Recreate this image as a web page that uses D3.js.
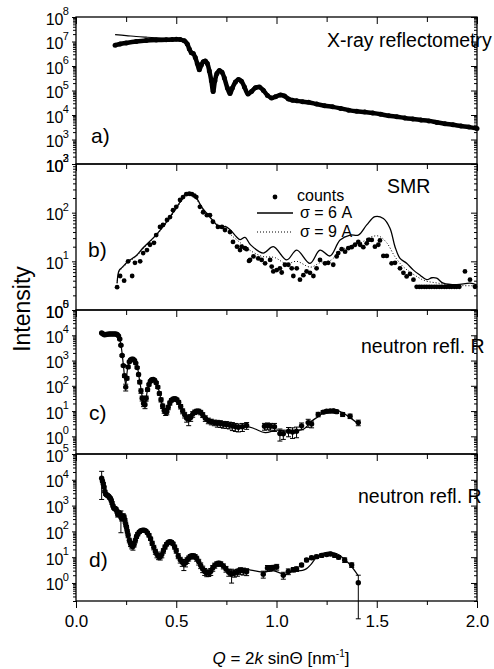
<!DOCTYPE html>
<html><head><meta charset="utf-8">
<script src="https://cdn.jsdelivr.net/npm/d3@7"></script>
<style>body{margin:0;background:#fff} text{font-family:Arial,"Liberation Sans",sans-serif;fill:#000}</style>
</head><body><svg id="c" width="494" height="669"></svg>
<script>
// ---------- DATA ----------
const xTicks = [0, 0.5, 1, 1.5, 2];
const xMinorTicks = [0.25, 0.75, 1.25, 1.75];
const expA = [2,3,4,5,6,7,8];
const expB = [0,1,2,3];
const expC = [0,1,2,3,4,5];
const expD = [0,1,2,3,4,5];

// (a) X-ray reflectometry: [Q, intensity]
const xrayData = [[0.195,7.1e6],[0.22,7.9e6],[0.25,8.7e6],[0.30,1.0e7],[0.35,1.1e7],[0.40,1.15e7],[0.45,1.17e7],[0.48,1.2e7],[0.50,1.23e7],[0.52,1.2e7],[0.54,1.07e7],[0.555,7.9e6],[0.565,5.0e6],[0.575,3.5e6],[0.585,3.2e6],[0.595,2.2e6],[0.605,1.26e6],[0.615,7.0e5],[0.625,1.1e6],[0.635,1.5e6],[0.645,1.6e6],[0.655,1.26e6],[0.665,6.3e5],[0.675,2.5e5],[0.684,9.0e4],[0.693,2.5e5],[0.703,5.0e5],[0.715,6.6e5],[0.728,5.6e5],[0.74,3.2e5],[0.755,1.26e5],[0.768,7.5e4],[0.78,1.26e5],[0.795,2.2e5],[0.81,2.8e5],[0.825,2.4e5],[0.84,1.4e5],[0.858,7.2e4],[0.875,9.0e4],[0.895,1.3e5],[0.915,1.38e5],[0.935,1.0e5],[0.955,6.3e4],[0.975,5.0e4],[0.995,5.6e4],[1.02,6.6e4],[1.04,6.0e4],[1.06,4.5e4],[1.08,4.0e4],[1.10,3.8e4],[1.13,3.5e4],[1.16,3.3e4],[1.20,2.8e4],[1.24,2.4e4],[1.28,2.15e4],[1.32,1.86e4],[1.36,1.58e4],[1.40,1.41e4],[1.44,1.32e4],[1.48,1.2e4],[1.52,1.07e4],[1.56,9.3e3],[1.60,8.5e3],[1.64,7.6e3],[1.68,6.9e3],[1.72,6.3e3],[1.76,5.75e3],[1.80,5.0e3],[1.84,4.4e3],[1.88,4.0e3],[1.92,3.55e3],[1.96,3.2e3],[2.0,2.8e3]];
const xrayFit = [[0.195,1.9e7],[0.25,1.75e7],[0.30,1.6e7],[0.35,1.5e7],[0.40,1.42e7],[0.45,1.36e7],[0.50,1.3e7],[0.53,1.22e7],[0.545,1.05e7],[0.56,6.5e6],[0.575,3.8e6],[0.59,2.8e6],[0.605,1.5e6],[0.618,9.5e5],[0.63,1.3e6],[0.645,1.7e6],[0.66,1.2e6],[0.672,5.0e5],[0.684,1.6e5],[0.697,3.5e5],[0.712,7.0e5],[0.728,6.0e5],[0.745,2.8e5],[0.768,9.0e4],[0.79,2.2e5],[0.81,3.0e5],[0.83,2.3e5],[0.858,8.5e4],[0.89,1.4e5],[0.915,1.45e5],[0.94,1.0e5],[0.975,5.3e4],[1.02,7.0e4],[1.06,4.8e4],[1.10,4.0e4],[1.16,3.5e4],[1.22,2.8e4],[1.28,2.3e4],[1.34,1.85e4],[1.40,1.5e4],[1.46,1.3e4],[1.52,1.12e4],[1.58,9.5e3],[1.64,8.0e3],[1.70,7.0e3],[1.76,6.0e3],[1.82,5.0e3],[1.88,4.2e3],[1.94,3.5e3],[2.0,3.0e3]];

// (b) SMR counts and fits
const smrCounts = [[0.205,2.95],[0.22,5.0],[0.24,4.0],[0.26,10],[0.28,5.0],[0.294,9.3],[0.32,10],[0.335,14.8],[0.354,17],[0.369,21.9],[0.389,24],[0.40,34.7],[0.419,51],[0.434,56],[0.454,71],[0.469,81],[0.484,112],[0.50,132],[0.519,182],[0.534,209],[0.55,240],[0.565,245],[0.578,240],[0.59,224],[0.60,209],[0.618,132],[0.634,102],[0.653,89],[0.668,89],[0.683,65],[0.708,51],[0.728,51],[0.743,44],[0.768,40],[0.783,25],[0.803,20],[0.818,17],[0.826,20],[0.843,18.6],[0.851,17.8],[0.863,10.2],[0.868,10.7],[0.885,12.6],[0.909,11.5],[0.926,10.7],[0.943,9.1],[0.968,10.7],[0.976,7.8],[0.984,6.2],[1.001,6.6],[1.017,7.2],[1.026,5.9],[1.042,8.5],[1.059,8.5],[1.076,7.2],[1.084,5.0],[1.101,7.2],[1.117,4.2],[1.134,5.2],[1.150,6.2],[1.167,5.8],[1.184,5.0],[1.200,7.2],[1.217,10.7],[1.242,9.1],[1.258,9.3],[1.283,8.5],[1.300,12.6],[1.308,14.8],[1.325,17.8],[1.342,15.8],[1.358,18.6],[1.375,19.5],[1.392,21.9],[1.408,25],[1.417,21.9],[1.433,19.5],[1.450,23.4],[1.458,27.5],[1.475,27.5],[1.491,20],[1.508,21.9],[1.516,26.9],[1.533,12.9],[1.550,12.9],[1.574,9.1],[1.591,9.3],[1.616,7.2],[1.633,5.8],[1.649,4.9],[1.666,5.5],[1.683,4.2],[1.699,3.0],[1.712,3.0],[1.724,3.0],[1.737,3.0],[1.749,3.0],[1.762,3.0],[1.774,3.0],[1.787,3.0],[1.799,3.0],[1.812,3.0],[1.824,3.0],[1.837,3.0],[1.849,3.0],[1.862,3.0],[1.874,3.0],[1.887,3.0],[1.899,3.0],[1.912,3.0],[1.940,6.2],[1.965,4.2],[1.990,3.0]];
const smrFit6 = [[0.205,3.6],[0.215,6.5],[0.23,7.5],[0.26,10],[0.30,13],[0.335,19],[0.40,35],[0.45,63],[0.50,126],[0.55,240],[0.57,251],[0.60,200],[0.63,126],[0.66,89],[0.68,71],[0.72,49],[0.745,52],[0.77,44],[0.80,32],[0.818,28],[0.843,31],[0.87,22],[0.934,14.8],[0.984,20],[1.051,10.7],[1.101,17],[1.167,9.1],[1.217,17],[1.267,12.9],[1.317,27.5],[1.367,34.7],[1.408,34.7],[1.45,56],[1.491,83],[1.533,76],[1.566,48],[1.591,20],[1.616,11.5],[1.649,9.1],[1.683,6.6],[1.716,5.2],[1.749,4.2],[1.775,4.6],[1.799,4.5],[1.832,3.55],[1.899,3.3],[1.965,3.55],[1.999,3.3]];
const smrFit9 = [[0.205,3.5],[0.215,6.2],[0.23,7.2],[0.26,9.5],[0.30,12.6],[0.335,18],[0.40,34],[0.45,60],[0.50,120],[0.55,229],[0.57,240],[0.60,190],[0.63,120],[0.66,83],[0.70,60],[0.74,46],[0.78,33],[0.82,24],[0.87,16.6],[0.93,12.6],[0.99,12],[1.05,8.9],[1.10,10],[1.17,7.6],[1.22,9.5],[1.27,10.5],[1.32,16.6],[1.37,21],[1.42,24],[1.47,31.6],[1.51,33],[1.55,24],[1.59,12.6],[1.63,7.9],[1.68,5.5],[1.74,4.0],[1.80,3.6],[1.86,3.3],[1.93,3.16],[2.0,3.16]];

// (c) neutron reflectivity: [Q, R, relative error]
const neutronC = [[0.128,12300,0.05],[0.135,11200,0.05],[0.142,10500,0.05],[0.150,10700,0.05],[0.158,11000,0.05],[0.166,11200,0.05],[0.174,11200,0.05],[0.182,11200,0.05],[0.190,11200,0.05],[0.198,11200,0.05],[0.205,10700,0.05],[0.212,9500,0.05],[0.218,7100,0.06],[0.224,4000,0.06],[0.230,1580,0.08],[0.236,630,0.1],[0.242,250,0.15],[0.248,89,0.3],[0.254,200,0.15],[0.260,560,0.1],[0.266,890,0.08],[0.272,1050,0.08],[0.278,1120,0.08],[0.285,1120,0.08],[0.292,1000,0.08],[0.298,790,0.08],[0.305,525,0.1],[0.312,280,0.12],[0.318,141,0.15],[0.324,63,0.2],[0.330,32,0.22],[0.337,20,0.25],[0.344,17.8,0.3],[0.350,32,0.22],[0.357,71,0.15],[0.364,112,0.12],[0.371,151,0.1],[0.378,174,0.1],[0.385,178,0.1],[0.392,166,0.1],[0.400,132,0.1],[0.408,89,0.12],[0.416,50,0.15],[0.424,28,0.18],[0.432,15.8,0.2],[0.440,10.5,0.22],[0.447,8.9,0.25],[0.453,9.5,0.25],[0.460,14.1,0.2],[0.468,20.9,0.18],[0.476,26.9,0.15],[0.485,30.2,0.15],[0.494,30.9,0.15],[0.503,28.2,0.15],[0.512,22.4,0.18],[0.522,15.1,0.2],[0.532,10,0.22],[0.542,7.1,0.25],[0.552,5.2,0.3],[0.562,4.8,0.45],[0.572,5.6,0.3],[0.582,7.6,0.25],[0.592,9.1,0.2],[0.602,9.8,0.2],[0.612,9.8,0.2],[0.622,8.9,0.2],[0.632,7.1,0.22],[0.645,5.2,0.25],[0.660,4.2,0.25],[0.675,3.8,0.25],[0.690,3.5,0.25],[0.705,3.3,0.3],[0.720,3.2,0.3],[0.735,3.0,0.3],[0.750,2.95,0.3],[0.765,2.8,0.3],[0.78,2.6,0.35],[0.795,2.4,0.35],[0.81,2.3,0.35],[0.83,2.4,0.35],[0.851,2.7,0.3],[0.94,2.5,0.3],[0.955,2.6,0.3],[0.97,2.5,0.3],[0.99,2.4,0.35],[1.017,1.3,0.5],[1.034,1.26,0.4],[1.06,1.6,0.4],[1.08,1.5,0.45],[1.10,1.6,0.45],[1.125,2.6,0.3],[1.158,3.5,0.35],[1.175,3.1,0.3],[1.208,7.4,0.2],[1.233,9.1,0.15],[1.250,9.8,0.15],[1.267,10,0.15],[1.285,10,0.15],[1.30,9.5,0.15],[1.33,7.4,0.18],[1.367,6.3,0.2],[1.408,3.5,0.25]];
const neutronCFit = [[0.128,12000],[0.15,10800],[0.2,11000],[0.212,9500],[0.224,4200],[0.236,700],[0.248,110],[0.26,600],[0.28,1130],[0.30,780],[0.318,150],[0.337,22],[0.344,19],[0.36,90],[0.385,178],[0.408,90],[0.432,16],[0.45,9],[0.47,22],[0.494,31],[0.52,16],[0.545,6.5],[0.565,4.8],[0.59,8.8],[0.61,10],[0.64,6.5],[0.68,4.0],[0.75,3.0],[0.818,2.2],[0.851,2.5],[0.89,2.0],[0.943,1.4],[1.001,1.75],[1.051,1.6],[1.134,1.9],[1.175,4.0],[1.208,6.0],[1.25,10.5],[1.283,12],[1.333,8.3],[1.408,3.1]];

// (d) neutron reflectivity, second sample: [Q, R, relative error]
const neutronD = [[0.128,11500,0.85],[0.132,8900,0.1],[0.136,7100,0.1],[0.140,5200,0.1],[0.144,3550,0.1],[0.148,2800,0.1],[0.152,2630,0.1],[0.156,2500,0.1],[0.160,2400,0.1],[0.164,2240,0.1],[0.168,2000,0.1],[0.172,1900,0.1],[0.176,1580,0.12],[0.180,1260,0.12],[0.184,1000,0.12],[0.188,830,0.12],[0.192,790,0.15],[0.196,760,0.15],[0.200,710,0.15],[0.204,600,0.15],[0.208,450,0.2],[0.212,525,0.2],[0.216,500,0.2],[0.220,480,0.2],[0.224,355,0.75],[0.228,316,0.2],[0.232,355,0.2],[0.236,400,0.2],[0.240,355,0.2],[0.244,263,0.2],[0.248,190,0.2],[0.252,141,0.2],[0.256,100,0.2],[0.260,71,0.2],[0.266,45,0.2],[0.272,33,0.22],[0.278,28,0.25],[0.284,26,0.28],[0.290,32,0.22],[0.296,45,0.2],[0.302,63,0.15],[0.308,79,0.15],[0.316,95,0.12],[0.324,107,0.12],[0.332,112,0.12],[0.340,112,0.12],[0.348,105,0.12],[0.356,89,0.12],[0.364,71,0.15],[0.372,52,0.15],[0.380,35,0.18],[0.388,24,0.2],[0.396,16.6,0.22],[0.404,12.6,0.25],[0.412,10.7,0.25],[0.420,10.5,0.26],[0.428,12.6,0.25],[0.436,17.8,0.2],[0.444,25,0.18],[0.452,32,0.15],[0.460,37,0.15],[0.468,40,0.15],[0.476,38,0.15],[0.484,33,0.15],[0.492,25,0.18],[0.500,17.8,0.2],[0.510,11.2,0.22],[0.520,7.9,0.25],[0.530,6.3,0.3],[0.538,5.6,0.46],[0.546,6.0,0.3],[0.554,7.6,0.25],[0.562,9.1,0.22],[0.570,10.5,0.2],[0.578,11.2,0.2],[0.586,11.2,0.2],[0.594,10.5,0.2],[0.602,8.9,0.22],[0.612,6.6,0.25],[0.622,4.8,0.25],[0.632,3.5,0.28],[0.642,2.8,0.3],[0.652,2.5,0.3],[0.662,2.4,0.26],[0.672,2.8,0.3],[0.682,3.8,0.25],[0.692,4.8,0.22],[0.702,5.5,0.2],[0.712,5.8,0.2],[0.722,5.5,0.2],[0.735,4.5,0.22],[0.748,3.5,0.25],[0.762,2.6,0.3],[0.776,2.2,0.55],[0.790,2.4,0.3],[0.805,2.6,0.3],[0.820,3.0,0.3],[0.835,2.9,0.3],[0.851,2.75,0.3],[0.934,2.2,0.3],[0.955,3.8,0.25],[0.968,3.8,0.25],[0.984,4.0,0.2],[1.001,4.2,0.25],[1.034,2.0,0.3],[1.059,2.8,0.25],[1.084,3.3,0.2],[1.10,3.5,0.2],[1.125,5.0,0.15],[1.15,7.8,0.15],[1.175,9.5,0.15],[1.20,10.5,0.15],[1.225,11.7,0.15],[1.25,12.6,0.12],[1.27,13.2,0.12],[1.29,11.7,0.15],[1.31,10,0.15],[1.34,7.8,0.2],[1.375,5.0,0.2],[1.408,1.02,0.96]];
const neutronDFit = [[0.128,11000],[0.14,5500],[0.16,2600],[0.18,1350],[0.20,750],[0.22,480],[0.24,330],[0.256,110],[0.27,38],[0.284,27],[0.30,60],[0.33,115],[0.345,112],[0.37,58],[0.39,22],[0.41,11],[0.42,10.5],[0.44,22],[0.465,41],[0.49,27],[0.51,12],[0.535,6.0],[0.56,9.5],[0.585,12],[0.61,7.5],[0.64,3.2],[0.66,2.6],[0.69,5.2],[0.715,6.5],[0.74,5.0],[0.77,2.8],[0.80,3.4],[0.818,3.7],[0.88,3.1],[0.934,2.6],[0.98,3.0],[1.02,2.4],[1.04,2.1],[1.08,2.8],[1.13,3.1],[1.15,3.6],[1.17,5.0],[1.20,10],[1.23,14],[1.26,15.8],[1.29,14.5],[1.31,12.3],[1.36,5.8],[1.408,1.9]];

// ---------- CHART ----------
const svg = d3.select('#c');
const X0 = 76, X1 = 477;
const x = d3.scaleLinear().domain([0, 2]).range([X0, X1]);

const panels = [
  {top:17,  bottom:164, dom:[1e2,1e8], exps:expA},
  {top:164, bottom:310, dom:[1e0,1e3], exps:expB},
  {top:310, bottom:454, dom:[0.2,1e5], exps:expC},
  {top:454, bottom:601, dom:[0.2,1e5], exps:expD}
];
panels.forEach(p => { p.y = d3.scaleLog().domain(p.dom).range([p.bottom, p.top]); });

function logMinors(dom, majors) {
  const out = [];
  for (let e = Math.floor(Math.log10(dom[0])) - 1; e <= Math.ceil(Math.log10(dom[1])); e++)
    for (let m = 1; m < 10; m++) {
      const v = m * Math.pow(10, e);
      if (v >= dom[0] * 0.999 && v <= dom[1] * 1.001 && !majors.some(M => Math.abs(M - v) / M < 1e-6)) out.push(v);
    }
  return out;
}
const noDomain = s => s.select('.domain').remove();

panels.forEach(p => {
  const g = svg.append('g');
  const majors = p.exps.map(e => Math.pow(10, e));
  const minors = logMinors(p.dom, majors);
  g.append('g').attr('transform', `translate(${X0},0)`).call(d3.axisLeft(p.y).tickValues(minors).tickSize(3).tickFormat('')).call(noDomain);
  g.append('g').attr('transform', `translate(${X0},0)`).call(d3.axisLeft(p.y).tickValues(majors).tickSize(4).tickFormat('')).call(noDomain);
  g.append('g').attr('transform', `translate(${X1},0)`).call(d3.axisRight(p.y).tickValues(minors).tickSize(-3).tickFormat('')).call(noDomain);
  g.append('g').attr('transform', `translate(${X1},0)`).call(d3.axisRight(p.y).tickValues(majors).tickSize(-6).tickFormat('')).call(noDomain);
  g.append('g').attr('transform', `translate(0,${p.top})`).call(d3.axisTop(x).tickValues(xMinorTicks).tickSize(-5).tickFormat('')).call(noDomain);
  g.append('g').attr('transform', `translate(0,${p.top})`).call(d3.axisTop(x).tickValues(xTicks).tickSize(-7).tickFormat('')).call(noDomain);
  g.selectAll('.tick line').attr('stroke', '#000').attr('stroke-width', 1);
  g.append('rect').attr('x', X0).attr('y', p.top).attr('width', X1 - X0).attr('height', p.bottom - p.top)
    .attr('fill', 'none').attr('stroke', '#000').attr('stroke-width', 1.3);
  const lab = g.append('g');
  p.exps.forEach(e => {
    const yy = p.y(Math.pow(10, e));
    lab.append('text').attr('x', 63.5).attr('y', yy + 7.5).attr('text-anchor', 'end').attr('font-size', 16).text('10');
    lab.append('text').attr('x', 62.8).attr('y', yy - 2).attr('font-size', 11).text(e);
  });
});

const bottomY = panels[3].bottom;
svg.append('g').attr('transform', `translate(0,${bottomY})`).call(d3.axisBottom(x).tickValues(xMinorTicks).tickSize(4).tickFormat('')).call(noDomain);
const bx = svg.append('g').attr('transform', `translate(0,${bottomY})`)
  .call(d3.axisBottom(x).tickValues(xTicks).tickSize(7).tickPadding(7).tickFormat(d3.format('.1f'))).call(noDomain);
bx.selectAll('text').attr('font-size', 17).attr('font-family', 'Arial, "Liberation Sans", sans-serif').attr('fill', '#000');
svg.selectAll('.tick line').attr('stroke', '#000');

const smooth = d3.curveCatmullRom.alpha(0.5);

// (a)
{
  const p = panels[0];
  const line = d3.line().x(d => x(d[0])).y(d => p.y(d[1])).curve(smooth);
  svg.append('path').attr('d', line(xrayData)).attr('fill', 'none').attr('stroke', '#000').attr('stroke-width', 4.5);
  svg.append('g').selectAll('circle').data(xrayData).join('circle')
    .attr('cx', d => x(d[0])).attr('cy', d => p.y(d[1])).attr('r', 2.5).attr('fill', '#000');
  svg.append('path').attr('d', line(xrayFit)).attr('fill', 'none').attr('stroke', '#000').attr('stroke-width', 1.2);
}
// (b)
{
  const p = panels[1];
  const line = d3.line().x(d => x(d[0])).y(d => p.y(d[1])).curve(smooth);
  svg.append('path').attr('d', line(smrFit9)).attr('fill', 'none').attr('stroke', '#000').attr('stroke-width', 1).attr('stroke-dasharray', '1,2');
  svg.append('path').attr('d', line(smrFit6)).attr('fill', 'none').attr('stroke', '#000').attr('stroke-width', 1.3);
  svg.append('g').selectAll('circle').data(smrCounts).join('circle')
    .attr('cx', d => x(d[0])).attr('cy', d => p.y(d[1])).attr('r', 2.4).attr('fill', '#000');
}
// (c),(d)
function neutron(p, data, fit) {
  const g = svg.append('g');
  const eb = g.append('g').attr('stroke', '#000').attr('stroke-width', 1);
  data.forEach(d => {
    const cx = x(d[0]), y1 = p.y(d[1] * (1 + d[2])), y2 = p.y(d[1] * (1 - d[2]));
    eb.append('line').attr('x1', cx).attr('x2', cx).attr('y1', y1).attr('y2', y2);
    eb.append('line').attr('x1', cx - 2.5).attr('x2', cx + 2.5).attr('y1', y1).attr('y2', y1);
    eb.append('line').attr('x1', cx - 2.5).attr('x2', cx + 2.5).attr('y1', y2).attr('y2', y2);
  });
  g.append('g').selectAll('circle').data(data).join('circle')
    .attr('cx', d => x(d[0])).attr('cy', d => p.y(d[1])).attr('r', 2.7).attr('fill', '#000');
  const line = d3.line().x(d => x(d[0])).y(d => p.y(d[1])).curve(smooth);
  g.append('path').attr('d', line(fit)).attr('fill', 'none').attr('stroke', '#000').attr('stroke-width', 1.2);
}
neutron(panels[2], neutronC, neutronCFit);
neutron(panels[3], neutronD, neutronDFit);

// annotations
const T = (xx, yy, s, size, anchor) => svg.append('text').attr('x', xx).attr('y', yy).attr('font-size', size).attr('text-anchor', anchor || 'start').text(s);
T(91, 143, 'a)', 21); T(88, 257, 'b)', 21); T(89, 420, 'c)', 21); T(89, 567, 'd)', 21);
T(327, 47, 'X-ray reflectometry', 19.5);
T(387, 193, 'SMR', 19.5);
T(361, 353, 'neutron refl. R', 19.5);
T(358, 503, 'neutron refl. R', 19.5);

// legend (b)
svg.append('circle').attr('cx', 275).attr('cy', 197).attr('r', 2.4).attr('fill', '#000');
T(297, 201, 'counts', 16);
svg.append('line').attr('x1', 257).attr('x2', 293).attr('y1', 213).attr('y2', 213).attr('stroke', '#000').attr('stroke-width', 1.3);
T(300, 218, 'σ = 6 A', 16);
svg.append('line').attr('x1', 257).attr('x2', 293).attr('y1', 232).attr('y2', 232).attr('stroke', '#000').attr('stroke-width', 1).attr('stroke-dasharray', '1,2');
T(300, 237, 'σ = 9 A', 16);

// axis titles
svg.append('text').attr('transform', 'translate(30,309) rotate(-90)').attr('text-anchor', 'middle').attr('font-size', 23).text('Intensity');
const xt = svg.append('text').attr('x', 281).attr('y', 664).attr('text-anchor', 'middle').attr('font-size', 17);
xt.append('tspan').attr('font-style', 'italic').text('Q');
xt.append('tspan').text(' = 2');
xt.append('tspan').attr('font-style', 'italic').text('k');
xt.append('tspan').text(' sinΘ [nm');
xt.append('tspan').attr('font-size', 10).attr('dy', -7).text('-1');
xt.append('tspan').attr('dy', 7).text(']');
</script></body></html>
